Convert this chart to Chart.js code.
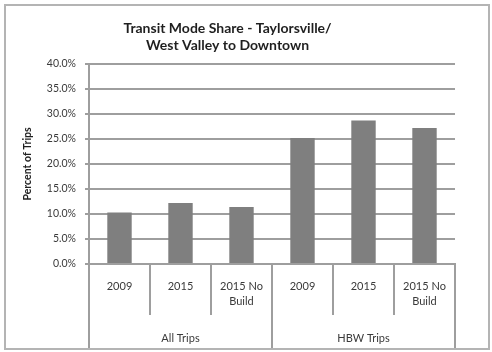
<!DOCTYPE html>
<html>
<head>
  <meta charset="utf-8">
  <title>Transit Mode Share</title>
  <script src="https://cdn.jsdelivr.net/npm/chart.js@4.4.0/dist/chart.umd.min.js"></script>
  <style>
    body { margin: 0; background: #fff; }
    canvas { display: block; }
  </style>
</head>
<body>
  <canvas id="share-chart" width="492" height="352"></canvas>

  <script>
    // trip type groups, each holding three scenario categories
    var groups = ['All Trips', 'HBW Trips'];
    var categories = ['2009', '2015', ['2015 No', 'Build'], '2009', '2015', ['2015 No', 'Build']];
    var shareValues = [10.3, 12.2, 11.4, 25.2, 28.7, 27.2]; // percent of trips
    var yTicks = [0, 5, 10, 15, 20, 25, 30, 35, 40];

    var font = 'Lato, "Open Sans", sans-serif';
    var lineColor = '#9e9e9e';
    var textColor = '#3a3a3a';

    // frame, category separators and group labels under the x axis
    var groupAxis = {
      id: 'groupAxis',
      beforeDraw: function (chart) {
        var c = chart.ctx;
        c.save();
        c.fillStyle = '#ffffff';
        c.fillRect(0, 0, chart.width, chart.height);
        c.restore();
      },
      afterDraw: function (chart) {
        var c = chart.ctx, x = chart.scales.x, area = chart.chartArea;
        var bottom = 349, tickBottom = 315;
        var per = categories.length / groups.length;
        c.save();
        c.strokeStyle = lineColor;
        c.lineWidth = 2;
        c.beginPath();
        for (var i = 0; i <= categories.length; i++) {
          var px;
          if (i === 0) px = area.left;
          else if (i === categories.length) px = area.right;
          else px = (x.getPixelForTick(i - 1) + x.getPixelForTick(i)) / 2;
          var end = (i % per === 0) ? bottom : tickBottom;
          c.moveTo(Math.round(px), area.bottom);
          c.lineTo(Math.round(px), end);
        }
        c.stroke();

        c.fillStyle = textColor;
        c.font = '11px ' + font;
        c.textAlign = 'center';
        c.textBaseline = 'middle';
        groups.forEach(function (g, gi) {
          var a = gi === 0 ? area.left : (x.getPixelForTick(gi * per - 1) + x.getPixelForTick(gi * per)) / 2;
          var b = gi === groups.length - 1 ? area.right : (x.getPixelForTick((gi + 1) * per - 1) + x.getPixelForTick((gi + 1) * per)) / 2;
          c.fillText(g, (a + b) / 2, 338);
        });

        // outer frame
        c.strokeStyle = '#b4b4b4';
        c.lineWidth = 2;
        c.strokeRect(5, 5, 484, 344);
        c.restore();
      }
    };

    var ctx = document.getElementById('share-chart').getContext('2d');

    var chart = new Chart(ctx, {
      type: 'bar',
      data: {
        labels: categories,
        datasets: [{
          label: 'Transit Mode Share',
          data: shareValues,
          backgroundColor: '#7f7f7f',
          barPercentage: 0.4,
          categoryPercentage: 1.0
        }]
      },
      options: {
        responsive: false,
        animation: false,
        devicePixelRatio: 1,
        layout: { padding: { left: 0, right: 37, top: 0, bottom: 0 } },
        plugins: {
          legend: { display: false },
          tooltip: { enabled: false },
          title: {
            display: true,
            text: ['Transit Mode Share - Taylorsville/', 'West Valley to Downtown'],
            color: '#1f1f1f',
            font: { family: font, size: 14, weight: 'bold', lineHeight: 1.21 },
            padding: { top: 20, bottom: 10 }
          }
        },
        scales: {
          x: {
            grid: { display: false, drawTicks: false },
            border: { display: true, color: lineColor, width: 2 },
            ticks: {
              color: textColor,
              font: { family: font, size: 11, lineHeight: 1.45 },
              padding: 14,
              maxRotation: 0,
              autoSkip: false
            },
            afterFit: function (scale) { scale.height = 352 - 264; }
          },
          y: {
            min: 0,
            max: 40,
            afterBuildTicks: function (scale) {
              scale.ticks = yTicks.map(function (v) { return { value: v }; });
            },
            grid: { color: lineColor, lineWidth: 2, tickLength: 4 },
            border: { display: true, color: lineColor, width: 2 },
            ticks: {
              color: textColor,
              font: { family: font, size: 10.5 },
              padding: 9,
              callback: function (v) { return v.toFixed(1) + '%'; }
            },
            title: {
              display: true,
              text: 'Percent of Trips',
              color: '#1f1f1f',
              font: { family: font, size: 10.5, weight: 'bold' },
              padding: { top: 21, bottom: 0 }
            },
            afterFit: function (scale) { scale.width = 89; }
          }
        }
      },
      plugins: [groupAxis]
    });
  </script>
</body>
</html>
